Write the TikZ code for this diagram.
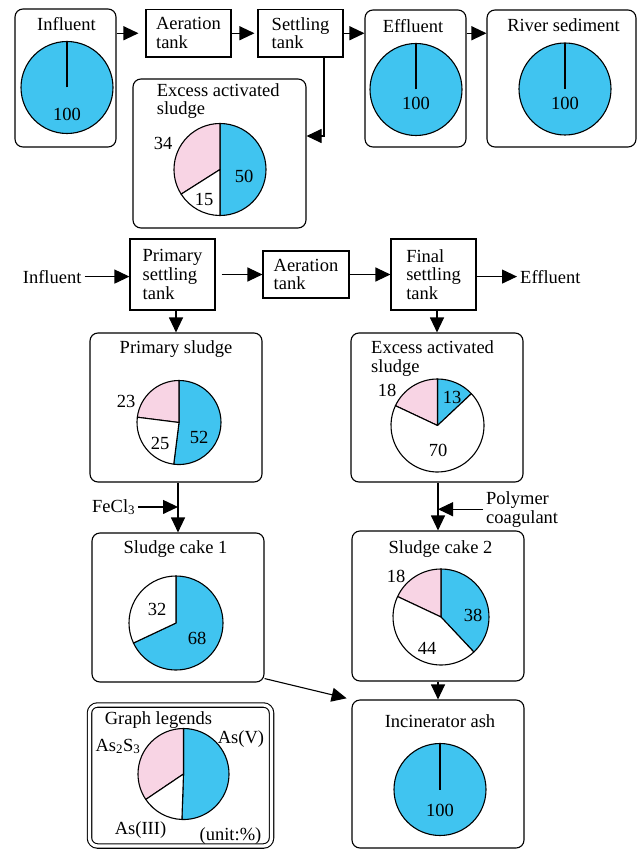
\documentclass[tikz,border=0pt]{standalone}
\usepackage{fontspec}
\setmainfont{Liberation Serif}
\usetikzlibrary{calc,arrows.meta}
\definecolor{asv}{HTML}{40C4F0}
\definecolor{ass}{HTML}{F8D4E4}
\def\lw{1.1pt}
\newcommand{\pieslice}[6]{%
  \filldraw[slice,fill=#6] (#1,#2) -- ++(#4:#3) arc[start angle=#4,end angle=#5,radius=#3] -- cycle;}

\begin{document}
\begin{tikzpicture}[x=1pt,y=1pt,every node/.style={font=\fontsize{18.5}{18.7}\selectfont}]
    \tikzset{%
      flow/.style={draw, line width=\lw, -{Triangle[length=15pt,width=14pt]}},
      tank/.style={draw, line width=\lw, align=left, minimum width=85, inner sep=2pt},
      panel/.style={draw, line width=\lw, rounded corners=8pt, minimum width=172, minimum height=149},
      txt/.style={inner sep=3pt},
      slice/.style={draw, line width=\lw, line join=round}}

    \useasboundingbox (0,0) rectangle (638,-850);

    % upper scheme
    \node[panel, minimum width=101, minimum height=138] (inflA) at (65.5,-78) {};
    \node[tank, minimum height=47.5] (aerA) at (188.5,-33.25) {Aeration\\tank};
    \node[tank, minimum height=47.5] (setA) at (300.5,-33.25) {Settling\\tank};
    \node[panel, minimum width=101, minimum height=137] (efflA) at (415.5,-78.5) {};
    \node[panel, minimum width=149, minimum height=137] (rivA) at (561.5,-78.5) {};
    \node[panel, minimum width=173] (exA) at (219.5,-153.5) {};

    \node[txt, anchor=base] (inflA-t) at (66.5,-30.5) {Influent};
    \node[txt, anchor=base] (efflA-t) at (413,-32.5) {Effluent};
    \node[txt, anchor=base] (rivA-t) at (563.5,-32) {River sediment};
    % base of a two-line node is its last line
    \node[txt, anchor=base west, align=left] (exA-t) at (153.7,-115) {Excess activated\\sludge};

    \foreach \cx/\cy/\ty [count=\k] in {67/-87.5/-121, 416/-89.5/-110, 565/-89/-110, 440/-789.5/-816}{
      \filldraw[slice,fill=asv] (\cx,\cy) circle (46);
      \draw[line width=\lw] (\cx,\cy) -- ++(0,46);
      \node[txt, anchor=base] (full\k) at (\cx,\ty) {100};
    }

    \draw[flow, shorten >=7pt] (aerA.west -| inflA.east) -- (aerA.west);
    \draw[flow, shorten >=3pt] (aerA.east) -- (setA.west);
    \draw[flow] (setA.east) -- (setA.east -| efflA.west);
    \draw[flow] (setA.east -| efflA.east) -- (setA.east -| rivA.west);
    \coordinate (bend) at (324,-136);
    \draw[flow] (setA.south -| bend) -- (bend) -- (bend -| exA.east);

    \pieslice{220}{-169.5}{46}{90}{-90}{asv}
    \pieslice{220}{-169.5}{46}{90}{212.4}{ass}
    \pieslice{220}{-169.5}{46}{212.4}{270}{white}
    \node[txt, anchor=base] (exA-a) at (163,-150) {34};
    \node[txt, anchor=base] (exA-b) at (204,-206) {15};
    \node[txt, anchor=base] (exA-c) at (244,-183) {50};

    % lower scheme
    \node[txt, anchor=base west] (inflB) at (19.7,-283) {Influent};
    \node[tank, minimum height=71] (prim) at (172.5,-274.5) {Primary\\settling\\tank};
    \node[tank, minimum width=86, minimum height=47] (aerB) at (306,-274.5) {Aeration\\tank};
    \node[tank, minimum height=71] (finB) at (433.5,-274.5) {Final\\settling\\tank};
    \node[txt, anchor=base west] (efflB) at (517,-283) {Effluent};

    \draw[flow] (inflB.east) -- (inflB.east -| prim.west);
    \draw[flow, shorten <=6pt] (prim.east) -- (aerB.west);
    \draw[flow] (aerB.east) -- (finB.west);
    \draw[flow] (finB.east |- efflB.west) -- (efflB.west);

    \node[panel] (psl) at (176,-407.5) {};
    \node[panel] (exB) at (437,-407.5) {};
    \node[panel] (ck1) at (178,-607.5) {};
    \node[panel, minimum height=150] (ck2) at (438,-606) {};
    \node[panel, minimum height=148] (ash) at (438,-774) {};
    \node[panel, minimum width=182, minimum height=141, double, double distance=3.3pt] (leg) at (180.5,-775.5) {};

    \node[txt, anchor=base] (psl-t) at (176,-353) {Primary sludge};
    \node[txt, anchor=base west, align=left] (exB-t) at (368,-372) {Excess activated\\sludge};
    \node[txt, anchor=base] (ck1-t) at (175.5,-553) {Sludge cake 1};
    \node[txt, anchor=base] (ck2-t) at (440.5,-553) {Sludge cake 2};
    \node[txt, anchor=base] (ash-t) at (440,-727) {Incinerator ash};
    \node[txt, anchor=base] (leg-t) at (158.5,-724) {Graph legends};

    \draw[flow] (prim.south -| psl.north) -- (psl.north);
    \draw[flow] (finB.south -| exB.north) -- (exB.north);
    \draw[flow] (psl.south -| ck1.north) -- (ck1.north);
    \draw[flow] (exB.south -| ck2.north) -- (ck2.north);
    \draw[flow] (ck2.south) -- (ash.north);
    \draw[flow, shorten >=5pt] ($(ck1.south east)+(0,4)$) -- (ash.north west);

    \node[txt, anchor=base west] (fecl) at (89,-512) {FeCl\textsubscript{3}};
    \draw[flow] (fecl.east) -- (fecl.east -| ck1.north);
    \node[txt, anchor=base west, align=left] (poly) at (483,-523) {Polymer\\coagulant};
    \draw[flow] (poly.west) -- (poly.west -| ck2.north);

    \pieslice{179}{-422.5}{42}{90}{-97.2}{asv}
    \pieslice{179}{-422.5}{42}{90}{172.8}{ass}
    \pieslice{179}{-422.5}{42}{172.8}{262.8}{white}
    \node[txt, anchor=base] (psl-a) at (126,-407) {23};
    \node[txt, anchor=base] (psl-b) at (160,-449) {25};
    \node[txt, anchor=base] (psl-c) at (199,-443) {52};

    \pieslice{437.5}{-425.5}{46.5}{90}{43.2}{asv}
    \pieslice{437.5}{-425.5}{46.5}{90}{154.8}{ass}
    \pieslice{437.5}{-425.5}{46.5}{154.8}{403.2}{white}
    \node[txt, anchor=base] (exB-a) at (387,-396) {18};
    \node[txt, anchor=base] (exB-b) at (452,-403) {13};
    \node[txt, anchor=base] (exB-c) at (438,-456) {70};

    \pieslice{176}{-623}{47}{90}{-154.8}{asv}
    \pieslice{176}{-623}{47}{90}{205.2}{white}
    \node[txt, anchor=base] (ck1-a) at (157,-615) {32};
    \node[txt, anchor=base] (ck1-b) at (197,-644) {68};

    \pieslice{441}{-617}{48}{90}{-46.8}{asv}
    \pieslice{441}{-617}{48}{90}{154.8}{ass}
    \pieslice{441}{-617}{48}{154.8}{313.2}{white}
    \node[txt, anchor=base] (ck2-a) at (396,-582) {18};
    \node[txt, anchor=base] (ck2-b) at (473,-621) {38};
    \node[txt, anchor=base] (ck2-c) at (427,-654) {44};

    \pieslice{183.5}{-774}{45.5}{90}{-92}{asv}
    \pieslice{183.5}{-774}{45.5}{90}{214}{ass}
    \pieslice{183.5}{-774}{45.5}{214}{268}{white}
    \node[txt, anchor=base] (leg-a) at (241,-743) {As(V)};
    \node[txt, anchor=base] (leg-b) at (118,-751) {As\textsubscript{2}S\textsubscript{3}};
    \node[txt, anchor=base] (leg-c) at (140.5,-834) {As(III)};
    \node[txt, anchor=base] (leg-d) at (230.5,-840) {(unit:\%)};
  \end{tikzpicture}
\end{document}
